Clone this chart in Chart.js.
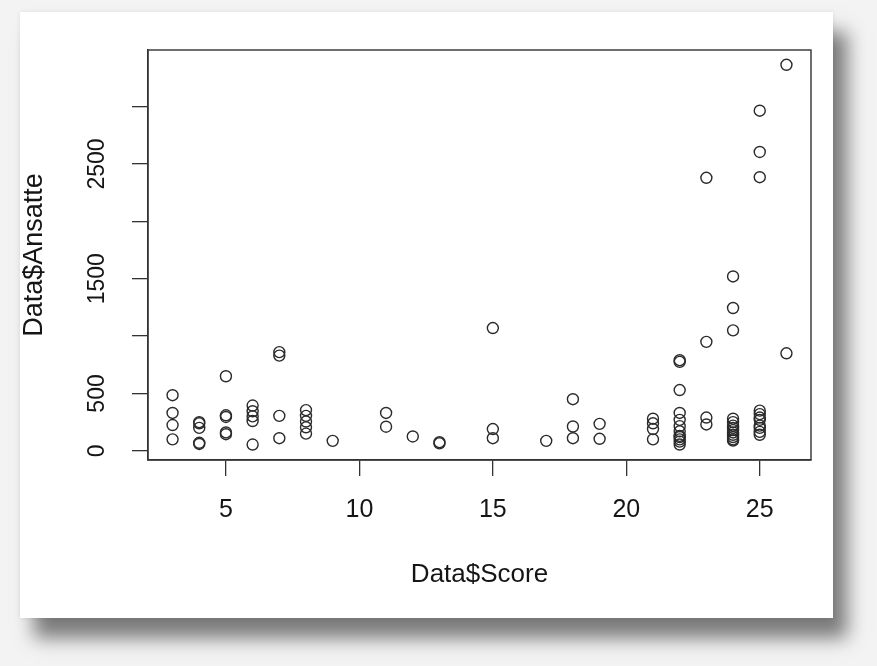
<!DOCTYPE html>
<html>
<head>
<meta charset="utf-8">
<title>Data$Ansatte vs Data$Score</title>
<script src="https://cdn.jsdelivr.net/npm/chart.js@4.4.1/dist/chart.umd.min.js"></script>
<style>
  html, body {
    margin: 0;
    padding: 0;
    background: #f3f3f3;
  }
  #card {
    position: absolute;
    left: 20px;
    top: 12px;
    width: 813px;
    height: 606px;
    background: #ffffff;
    box-shadow: 14px 20px 18px rgba(0, 0, 0, 0.5), 0 0 5px rgba(0, 0, 0, 0.08);
  }
  #scatter {
    position: absolute;
    left: 0;
    top: 0;
  }
</style>
</head>
<body>
<div id="card"></div>
<canvas id="scatter" width="877" height="666"></canvas>
<script>
// values (Score on x, Ansatte on y)
const score = [
  3, 3, 3, 3,
  4, 4, 4, 4, 4,
  5, 5, 5, 5, 5,
  6, 6, 6, 6, 6,
  7, 7, 7, 7,
  8, 8, 8, 8, 8,
  9,
  11, 11,
  12,
  13, 13,
  15, 15, 15,
  17,
  18, 18, 18,
  19, 19,
  21, 21, 21, 21,
  22, 22, 22, 22, 22, 22, 22, 22, 22, 22, 22, 22,
  23, 23, 23, 23,
  24, 24, 24, 24, 24, 24, 24, 24, 24, 24, 24, 24, 24,
  25, 25, 25, 25, 25, 25, 25, 25, 25, 25, 25,
  26, 26
];
const ansatte = [
  485, 330, 225, 100,
  250, 240, 200, 70, 60,
  650, 310, 295, 160, 145,
  395, 345, 300, 260, 55,
  860, 830, 305, 110,
  355, 305, 255, 205, 150,
  87,
  330, 210,
  125,
  75, 65,
  1070, 190, 110,
  87,
  450, 212, 110,
  235, 105,
  280, 240, 190, 100,
  790, 775, 530, 330, 270, 215, 170, 130, 120, 100, 80, 55,
  2380, 950, 290, 230,
  1520, 1245, 1050, 280, 250, 220, 200, 180, 160, 140, 120, 100, 90,
  2965, 2605, 2385, 350, 320, 290, 270, 220, 200, 165, 140,
  3365, 850
];

const xTicks = [5, 10, 15, 20, 25];
const yTicks = [0, 500, 1000, 1500, 2000, 2500, 3000];
const yTickLabels = ["0", "500", "", "1500", "", "2500", ""];

const points = score.map((s, i) => ({ x: s, y: ansatte[i] }));

const fontFamily = '"Liberation Sans", Arial, sans-serif';
const ink = "#151515";
const lineColor = "#333333";

// R style box round the plot region
const boxPlugin = {
  id: "plotBox",
  afterDraw(chart) {
    const { ctx, chartArea } = chart;
    ctx.save();
    ctx.strokeStyle = lineColor;
    ctx.lineWidth = 1.4;
    ctx.strokeRect(chartArea.left, chartArea.top,
      chartArea.right - chartArea.left, chartArea.bottom - chartArea.top);
    ctx.restore();
  },
};

const chart = new Chart(document.getElementById("scatter"), {
  type: "scatter",
  data: {
    datasets: [
      {
        label: "Data$Ansatte",
        data: points,
        pointStyle: "circle",
        pointRadius: 5.5,
        pointHoverRadius: 5.5,
        borderWidth: 1.4,
        borderColor: "#2a2a2a",
        backgroundColor: "rgba(0, 0, 0, 0)",
      },
    ],
  },
  options: {
    responsive: false,
    animation: false,
    devicePixelRatio: 1,
    layout: {
      padding: { top: 50, right: 66, left: 0, bottom: 0 },
    },
    plugins: {
      legend: { display: false },
      tooltip: { enabled: false },
    },
    scales: {
      x: {
        type: "linear",
        min: 2.08,
        max: 26.92,
        afterBuildTicks: (axis) => {
          axis.ticks = xTicks.map((v) => ({ value: v }));
        },
        afterFit: (axis) => {
          axis.height = 206;
        },
        border: { display: true, color: lineColor, width: 1.4 },
        grid: {
          drawOnChartArea: false,
          drawTicks: true,
          tickLength: 16,
          color: lineColor,
          lineWidth: 1.3,
        },
        ticks: {
          autoSkip: false,
          maxRotation: 0,
          padding: 19,
          color: ink,
          font: { family: fontFamily, size: 25 },
        },
        title: {
          display: true,
          text: "Data$Score",
          color: ink,
          font: { family: fontFamily, size: 26 },
          padding: { top: 0, bottom: 76 },
        },
      },
      y: {
        type: "linear",
        min: -80,
        max: 3494,
        afterBuildTicks: (axis) => {
          axis.ticks = yTicks.map((v) => ({ value: v }));
        },
        afterFit: (axis) => {
          axis.width = 148;
        },
        border: { display: true, color: lineColor, width: 1.4 },
        grid: {
          drawOnChartArea: false,
          drawTicks: true,
          tickLength: 16,
          color: lineColor,
          lineWidth: 1.3,
        },
        ticks: {
          autoSkip: false,
          minRotation: 90,
          maxRotation: 90,
          crossAlign: "center",
          padding: 9,
          color: ink,
          font: { family: fontFamily, size: 23 },
          callback: function (value, index) {
            return yTickLabels[index];
          },
        },
        title: {
          display: true,
          text: "Data$Ansatte",
          color: ink,
          font: { family: fontFamily, size: 27 },
          padding: { top: 18, bottom: 0 },
        },
      },
    },
  },
  plugins: [boxPlugin],
});
</script>
</body>
</html>
